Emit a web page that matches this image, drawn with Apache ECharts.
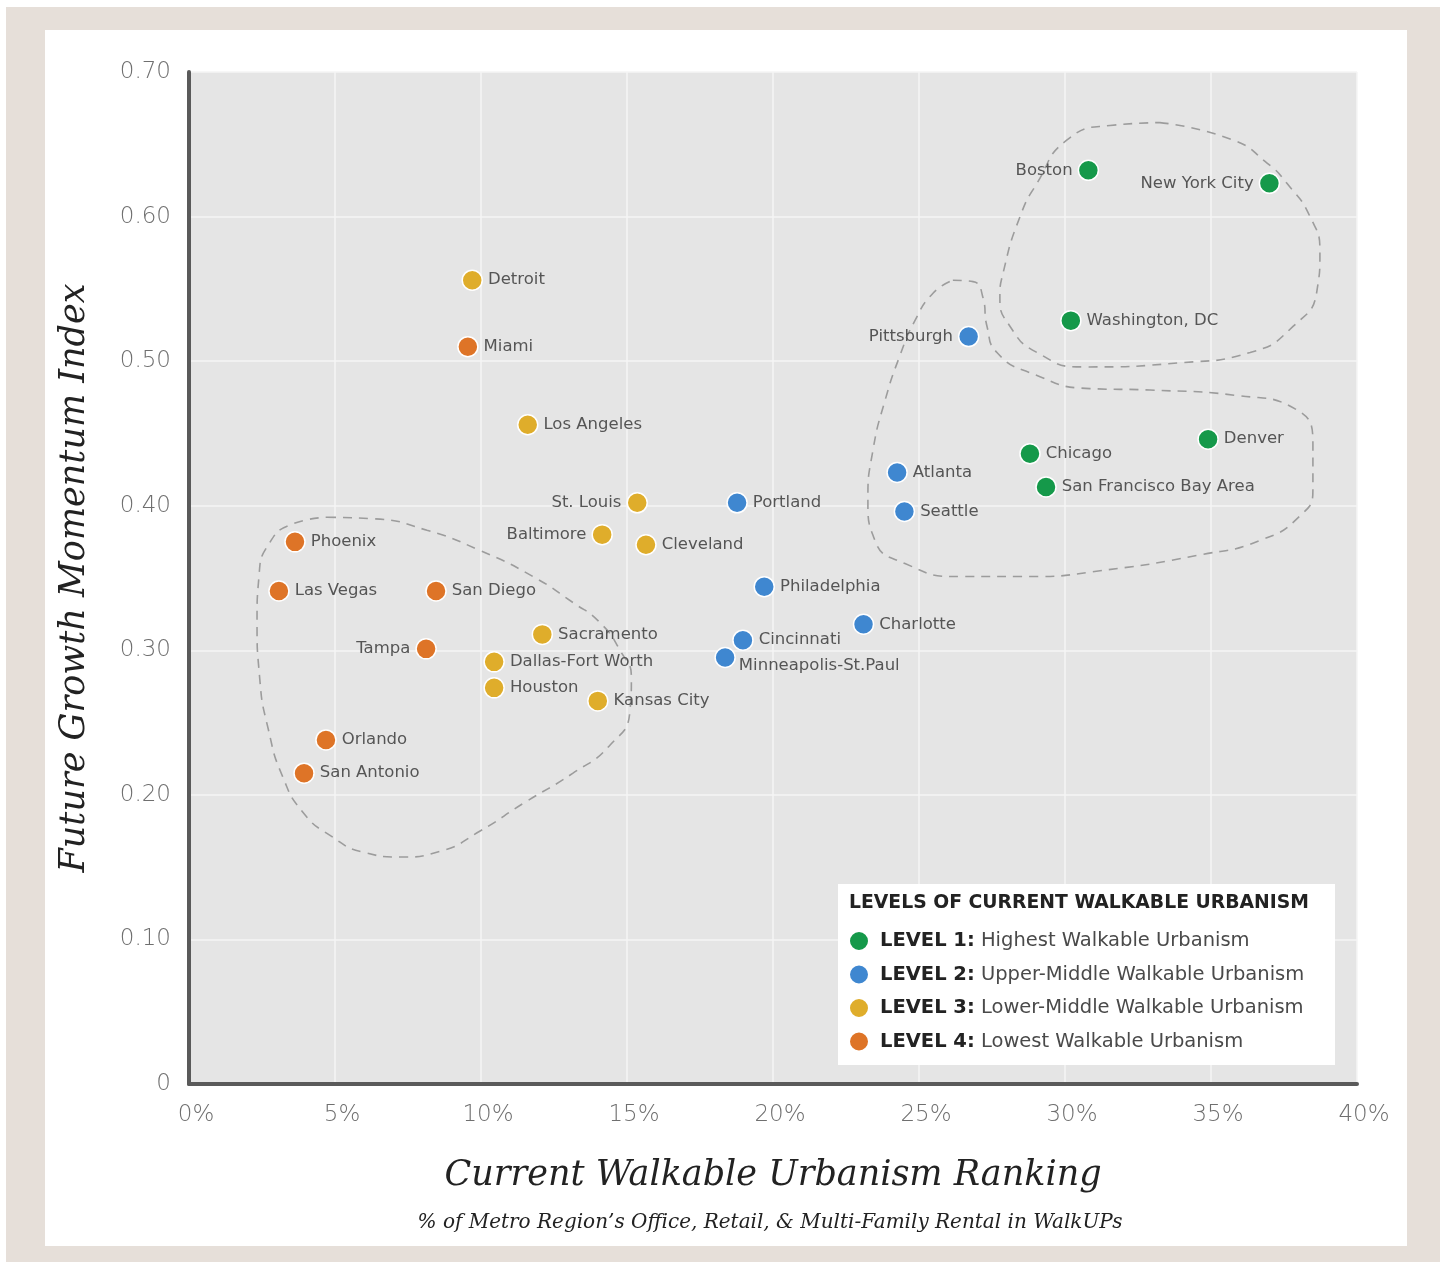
<!DOCTYPE html>
<html>
<head>
<meta charset="utf-8">
<title>Walkable Urbanism vs Future Growth Momentum</title>
<script src="https://cdn.jsdelivr.net/npm/echarts@6/dist/echarts.min.js"></script>
<style>
  html, body { margin: 0; padding: 0; background: #ffffff; }
  #frame { position: absolute; left: 6px; top: 7px; width: 1434px; height: 1255px; background: #e6dfd9; }
  #panel { position: absolute; left: 45px; top: 30px; width: 1362px; height: 1216px; background: #ffffff; }
  #chart { position: absolute; left: 0; top: 0; width: 1449px; height: 1262px; }
</style>
</head>
<body>
<div id="frame"></div>
<div id="panel"></div>
<div id="chart"></div>
<script>
// ---- Data -------------------------------------------------------------
// x: share of metro office/retail/multi-family rental in WalkUPs (%)
// y: future growth momentum index
const level1Cities = ['Boston', 'New York City', 'Washington, DC', 'Denver', 'Chicago', 'San Francisco Bay Area'];
const level1X = [30.8, 37.0, 30.2, 34.9, 28.8, 29.35];
const level1Y = [0.632, 0.623, 0.528, 0.446, 0.436, 0.413];

const level2Cities = ['Pittsburgh', 'Atlanta', 'Seattle', 'Portland', 'Philadelphia', 'Charlotte', 'Cincinnati', 'Minneapolis-St.Paul'];
const level2X = [26.7, 24.25, 24.5, 18.77, 19.7, 23.1, 18.97, 18.36];
const level2Y = [0.517, 0.423, 0.396, 0.402, 0.344, 0.318, 0.307, 0.295];

const level3Cities = ['Detroit', 'Los Angeles', 'St. Louis', 'Baltimore', 'Cleveland', 'Sacramento', 'Dallas-Fort Worth', 'Houston', 'Kansas City'];
const level3X = [9.7, 11.6, 15.35, 14.15, 15.65, 12.1, 10.45, 10.45, 14.0];
const level3Y = [0.556, 0.456, 0.402, 0.380, 0.373, 0.311, 0.292, 0.274, 0.265];

const level4Cities = ['Miami', 'Phoenix', 'Las Vegas', 'San Diego', 'Tampa', 'Orlando', 'San Antonio'];
const level4X = [9.55, 3.63, 3.08, 8.46, 8.12, 4.69, 3.94];
const level4Y = [0.510, 0.375, 0.341, 0.341, 0.301, 0.238, 0.215];

const levelTags = ['LEVEL 1:', 'LEVEL 2:', 'LEVEL 3:', 'LEVEL 4:'];
const levelDescriptions = ['Highest Walkable Urbanism', 'Upper-Middle Walkable Urbanism', 'Lower-Middle Walkable Urbanism', 'Lowest Walkable Urbanism'];

const xTicks = [0, 5, 10, 15, 20, 25, 30, 35, 40];
const yTicks = [0, 0.1, 0.2, 0.3, 0.4, 0.5, 0.6, 0.7];

// Dashed cluster outlines, traced in axis units (x %, y index)
const outlineTop = [
  [33.25, 0.665], [35.75, 0.653], [36.92, 0.637], [37.6, 0.623], [38.39, 0.600], [38.73, 0.575],
  [38.63, 0.549], [37.81, 0.524], [36.34, 0.506], [34.04, 0.499], [30.62, 0.496], [29.04, 0.506],
  [28.12, 0.524], [27.77, 0.544], [27.88, 0.561], [28.46, 0.600], [29.04, 0.623], [30.07, 0.653],
  [31.54, 0.663], [33.25, 0.665]
];
const outlineMiddle = [
  [26.16, 0.556], [26.85, 0.555], [27.19, 0.544], [27.33, 0.524], [27.67, 0.506], [28.8, 0.492],
  [30.86, 0.481], [32.91, 0.480], [35.99, 0.476], [37.88, 0.467], [38.49, 0.442], [38.49, 0.411],
  [38.05, 0.393], [36.68, 0.376], [34.62, 0.366], [31.2, 0.355], [28.8, 0.351], [26.4, 0.351],
  [24.52, 0.360], [23.49, 0.376], [23.25, 0.404], [23.42, 0.438], [23.84, 0.473], [24.35, 0.504],
  [24.86, 0.528], [25.48, 0.547], [26.16, 0.556]
];
const outlineLow = [
  [4.73, 0.392], [6.30, 0.391], [8.15, 0.383], [9.97, 0.369], [11.78, 0.351], [13.15, 0.333],
  [14.08, 0.319], [14.76, 0.300], [15.15, 0.281], [15.1, 0.258], [14.4, 0.234], [13.15, 0.215],
  [11.44, 0.194], [9.97, 0.175], [8.60, 0.161], [7.23, 0.157], [6.03, 0.160], [4.83, 0.172],
  [3.90, 0.188], [3.22, 0.212], [2.72, 0.245], [2.42, 0.281], [2.33, 0.320], [2.40, 0.352],
  [2.75, 0.374], [3.50, 0.387], [4.73, 0.392]
];

// ---- Presentation -----------------------------------------------------
const levelColors = ['#15994a', '#3f87d0', '#dfad2b', '#de7427'];
const labelOnLeft = new Set(['Boston', 'New York City', 'Pittsburgh', 'St. Louis', 'Baltimore', 'Tampa']);
const labelFont = 'DejaVu Sans, sans-serif';
const serifFont = 'DejaVu Serif, serif';

function cityPoints(cities, xs, ys) {
  return cities.map((name, i) => {
    const item = { name: name, value: [xs[i], ys[i]] };
    if (labelOnLeft.has(name)) {
      item.label = { position: 'left' };
    }
    if (name === 'Minneapolis-St.Paul') {
      item.label = { position: 'right', offset: [-2, 8] };
    }
    return item;
  });
}

const levels = [
  cityPoints(level1Cities, level1X, level1Y),
  cityPoints(level2Cities, level2X, level2Y),
  cityPoints(level3Cities, level3X, level3Y),
  cityPoints(level4Cities, level4X, level4Y)
];

const outlineSeries = [outlineTop, outlineMiddle, outlineLow].map((pts) => ({
  type: 'line',
  data: pts,
  smooth: 0.55,
  showSymbol: false,
  silent: true,
  z: 1,
  lineStyle: { color: '#9c9c9c', width: 1.6, type: [9, 7] },
  tooltip: { show: false }
}));

const scatterSeries = levels.map((pts, i) => ({
  name: levelTags[i],
  type: 'scatter',
  data: pts,
  symbol: 'circle',
  symbolSize: 20,
  z: 3,
  itemStyle: { color: levelColors[i], borderColor: '#ffffff', borderWidth: 1.5, opacity: 1 },
  label: {
    show: true,
    position: 'right',
    distance: 5,
    formatter: (p) => p.name,
    fontFamily: labelFont,
    fontSize: 16.5,
    color: '#555555'
  }
}));

const chart = echarts.init(document.getElementById('chart'), null, { renderer: 'canvas' });

chart.setOption({
  backgroundColor: 'transparent',
  animation: false,
  grid: {
    left: 189, top: 72, right: 92, bottom: 178,
    show: true, backgroundColor: '#e5e5e5', borderWidth: 0
  },
  xAxis: {
    type: 'value',
    min: xTicks[0],
    max: xTicks[xTicks.length - 1],
    interval: xTicks[1] - xTicks[0],
    axisLine: { show: true, onZero: false, lineStyle: { color: '#5a5a5a', width: 4 } },
    axisTick: { show: false },
    splitLine: { show: true, lineStyle: { color: '#f4f4f4', width: 1.5 } },
    axisLabel: {
      margin: 20,
      padding: [0, 0, 0, 14],
      fontFamily: labelFont, fontSize: 23, fontWeight: 300, color: '#6f6f6f',
      formatter: (v) => v + '%'
    },
    name: 'Current Walkable Urbanism Ranking',
    nameLocation: 'middle',
    nameGap: 74,
    nameTextStyle: {
      fontFamily: serifFont, fontStyle: 'italic', fontSize: 35, color: '#222222',
      verticalAlign: 'top'
    }
  },
  yAxis: {
    type: 'value',
    min: yTicks[0],
    max: yTicks[yTicks.length - 1],
    interval: yTicks[1] - yTicks[0],
    axisLine: { show: true, onZero: false, lineStyle: { color: '#5a5a5a', width: 4 } },
    axisTick: { show: false },
    splitLine: { show: true, lineStyle: { color: '#f4f4f4', width: 1.5 } },
    axisLabel: {
      margin: 18,
      fontFamily: labelFont, fontSize: 23, fontWeight: 300, color: '#6f6f6f',
      formatter: (v) => (v === 0 ? '0' : v.toFixed(2))
    },
    name: 'Future Growth Momentum Index',
    nameLocation: 'middle',
    nameGap: 97,
    nameRotate: 90,
    nameTextStyle: {
      fontFamily: serifFont, fontStyle: 'italic', fontSize: 35, color: '#222222'
    }
  },
  legend: {
    data: levelTags,
    orient: 'vertical',
    left: 848,
    top: 930,
    z: 60,
    itemWidth: 20,
    itemHeight: 20,
    itemGap: 11.5,
    icon: 'circle',
    selectedMode: false,
    padding: 0,
    formatter: (name) => {
      const i = levelTags.indexOf(name);
      return '{b|' + name + '} ' + levelDescriptions[i];
    },
    textStyle: {
      fontFamily: labelFont, fontSize: 19.5, color: '#4a4a4a',
      padding: [0, 0, 0, 6],
      rich: {
        b: { fontFamily: labelFont, fontSize: 19.5, fontWeight: 'bold', color: '#222222' }
      }
    }
  },
  graphic: [
    {
      type: 'rect', z: 50, silent: true,
      shape: { x: 838, y: 884, width: 497, height: 181 },
      style: { fill: '#ffffff' }
    },
    {
      type: 'text', z: 51, silent: true,
      left: 849, top: 894,
      style: {
        text: 'LEVELS OF CURRENT WALKABLE URBANISM',
        fontFamily: labelFont, fontSize: 18.8, fontWeight: 'bold', fill: '#222222'
      }
    },
    {
      type: 'text', z: 51, silent: true,
      x: 770, y: 1223,
      style: {
        text: '% of Metro Region\u2019s Office, Retail, & Multi-Family Rental in WalkUPs',
        fontFamily: serifFont, fontStyle: 'italic', fontSize: 20, fill: '#222222',
        align: 'center', verticalAlign: 'middle'
      }
    }
  ],
  series: outlineSeries.concat(scatterSeries)
});
</script>
</body>
</html>
